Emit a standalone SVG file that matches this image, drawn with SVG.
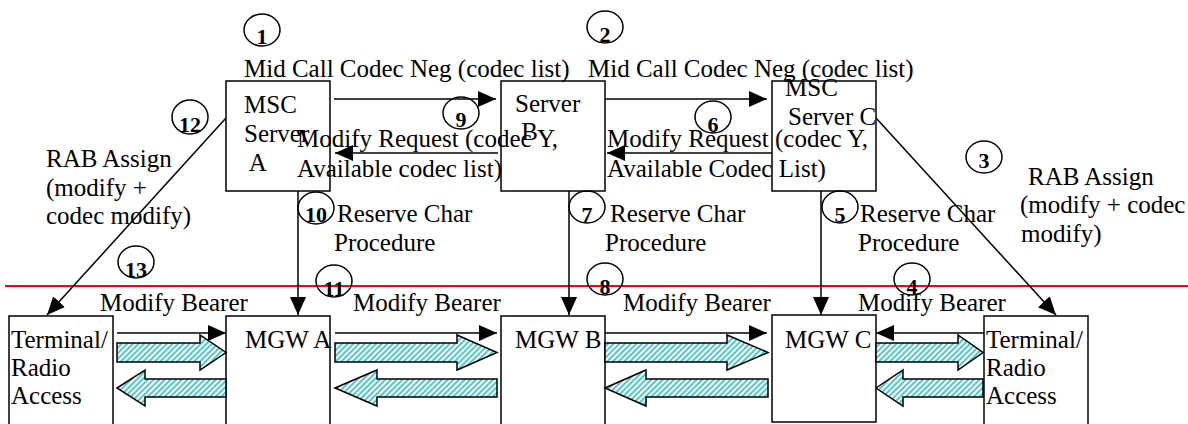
<svg xmlns="http://www.w3.org/2000/svg" width="1188" height="424" viewBox="0 0 1188 424" font-family="Liberation Serif, Times New Roman, serif">
<style>
.box{fill:#fff;stroke:#000;stroke-width:1.5}
.t{font-size:25px;fill:#000}
.n{font-size:22px;font-weight:bold;fill:#000;text-anchor:middle}
.c{fill:none;stroke:#000;stroke-width:1.5}
.ln{fill:none;stroke:#000;stroke-width:1.5;marker-end:url(#ah)}
.blk{fill:url(#hatch);stroke:#000;stroke-width:1.5;stroke-linejoin:miter}
.red{stroke:#ff0000;stroke-width:2}
</style>
<defs>
<marker id="ah" markerWidth="18" markerHeight="16" refX="18" refY="8" orient="auto" markerUnits="userSpaceOnUse" viewBox="0 0 18 16"><path d="M0,0 L18,8 L0,16 z" fill="#000"/></marker>
<pattern id="hatch" width="4" height="4" patternUnits="userSpaceOnUse" patternTransform="rotate(45)"><rect width="4" height="4" fill="#fff"/><line x1="1" y1="0" x2="1" y2="4" stroke="#3cc3c3" stroke-width="1.8"/></pattern>
</defs>
<rect width="1188" height="424" fill="#fff"/>

<g id="msc-a"><rect class="box" x="226" y="81" width="104" height="110"/><text class="t" x="244" y="113">MSC</text><text class="t" x="244" y="142">Server</text><text class="t" x="244" y="171" xml:space="preserve"> A</text></g>
<g id="server-b"><rect class="box" x="501" y="81" width="104" height="110"/><text class="t" x="515" y="112">Server</text><text class="t" x="515" y="140" xml:space="preserve"> B</text></g>
<g id="msc-c"><rect class="box" x="772" y="81" width="104" height="110"/><text class="t" x="785" y="96">MSC</text><text class="t" x="788" y="125">Server C</text></g>
<g id="term-l"><rect class="box" x="9" y="316" width="104" height="130"/><text class="t" x="11" y="348">Terminal/</text><text class="t" x="11" y="376">Radio</text><text class="t" x="11" y="404">Access</text></g>
<g id="mgw-a"><rect class="box" x="226" y="316" width="104" height="130"/><text class="t" x="245" y="348">MGW A</text></g>
<g id="mgw-b"><rect class="box" x="501" y="316" width="104" height="130"/><text class="t" x="515" y="348">MGW B</text></g>
<g id="mgw-c"><rect class="box" x="772" y="315" width="104" height="107"/><text class="t" x="785" y="348">MGW C</text></g>
<g id="term-r"><rect class="box" x="984" y="316" width="104" height="130"/><text class="t" x="986" y="348">Terminal/</text><text class="t" x="986" y="376">Radio</text><text class="t" x="986" y="404">Access</text></g>

<g id="connectors">
<line class="red" x1="5" y1="286" x2="1188" y2="286"/>
<line class="ln" x1="334" y1="99" x2="496" y2="99"/>
<line class="ln" x1="605" y1="99" x2="767" y2="99"/>
<line class="ln" x1="772" y1="153" x2="607" y2="153"/>
<line class="ln" x1="498" y1="153" x2="335" y2="153"/>
<line class="ln" x1="226" y1="118" x2="47" y2="315"/>
<line class="ln" x1="876" y1="118" x2="1056" y2="315"/>
<line class="ln" x1="298" y1="191" x2="298" y2="315"/>
<line class="ln" x1="569" y1="191" x2="569" y2="315"/>
<line class="ln" x1="821" y1="191" x2="821" y2="315"/>
<line class="ln" x1="117" y1="333" x2="226" y2="333"/>
<line class="ln" x1="335" y1="333" x2="497" y2="333"/>
<line class="ln" x1="605" y1="333" x2="767" y2="333"/>
<line class="ln" x1="984" y1="333" x2="876" y2="333"/>
<polygon class="blk" points="117,343 200,343 200,335 226,352.5 200,370 200,362 117,362"/>
<polygon class="blk" points="117,388 145,370 145,379 226,379 226,397 145,397 145,406"/>
<polygon class="blk" points="335,343 457,343 457,335 497,352.5 457,370 457,362 335,362"/>
<polygon class="blk" points="335,388 377,370 377,379 497,379 497,397 377,397 377,406"/>
<polygon class="blk" points="605,343 727,343 727,335 768,352.5 727,370 727,362 605,362"/>
<polygon class="blk" points="605,388 646,370 646,379 768,379 768,397 646,397 646,406"/>
<polygon class="blk" points="876,343 958,343 958,335 983,352.5 958,370 958,362 876,362"/>
<polygon class="blk" points="876,388 903,370 903,379 983,379 983,397 903,397 903,406"/>
</g>

<g id="labels">
<text class="t" x="244" y="77">Mid Call Codec Neg (codec list)</text>
<text class="t" x="588" y="77">Mid Call Codec Neg (codec list)</text>
<text class="t" x="297" y="147">Modify Request (codec Y,</text>
<text class="t" x="297" y="177">Available codec list)</text>
<text class="t" x="607" y="147">Modify Request (codec Y,</text>
<text class="t" x="607" y="177">Available Codec List)</text>
<text class="t" x="46" y="167">RAB Assign</text>
<text class="t" x="46" y="195.5">(modify +</text>
<text class="t" x="46" y="224">codec modify)</text>
<text class="t" x="1028" y="185">RAB Assign</text>
<text class="t" x="1020" y="213">(modify + codec</text>
<text class="t" x="1021" y="242">modify)</text>
<text class="t" x="337" y="222">Reserve Char</text>
<text class="t" x="334" y="251">Procedure</text>
<text class="t" x="610" y="222">Reserve Char</text>
<text class="t" x="605" y="251">Procedure</text>
<text class="t" x="860" y="222">Reserve Char</text>
<text class="t" x="858" y="251">Procedure</text>
<text class="t" x="100" y="311">Modify Bearer</text>
<text class="t" x="353" y="311">Modify Bearer</text>
<text class="t" x="623" y="311">Modify Bearer</text>
<text class="t" x="858" y="311">Modify Bearer</text>
</g>

<g id="steps">
<ellipse class="c" cx="262" cy="30" rx="18" ry="16"/><text class="n" x="262" y="44">1</text>
<ellipse class="c" cx="605" cy="27" rx="18" ry="16"/><text class="n" x="605" y="42">2</text>
<ellipse class="c" cx="984" cy="157" rx="18" ry="16"/><text class="n" x="984" y="168">3</text>
<ellipse class="c" cx="912" cy="279" rx="18" ry="16"/><text class="n" x="912" y="294">4</text>
<ellipse class="c" cx="840" cy="207" rx="18" ry="16"/><text class="n" x="840" y="222">5</text>
<ellipse class="c" cx="713" cy="117" rx="18" ry="16"/><text class="n" x="713" y="132">6</text>
<ellipse class="c" cx="587" cy="207" rx="18" ry="16"/><text class="n" x="587" y="222">7</text>
<ellipse class="c" cx="605" cy="279" rx="18" ry="16"/><text class="n" x="605" y="294">8</text>
<ellipse class="c" cx="461" cy="113" rx="18" ry="16"/><text class="n" x="461" y="127">9</text>
<ellipse class="c" cx="316" cy="208" rx="18" ry="16"/><text class="n" x="316" y="222">10</text>
<ellipse class="c" cx="334" cy="281" rx="18" ry="16"/><text class="n" x="334" y="296">11</text>
<ellipse class="c" cx="190" cy="117" rx="18" ry="17"/><text class="n" x="190" y="132">12</text>
<ellipse class="c" cx="136" cy="262" rx="18" ry="16"/><text class="n" x="136" y="277">13</text>
</g>
</svg>
